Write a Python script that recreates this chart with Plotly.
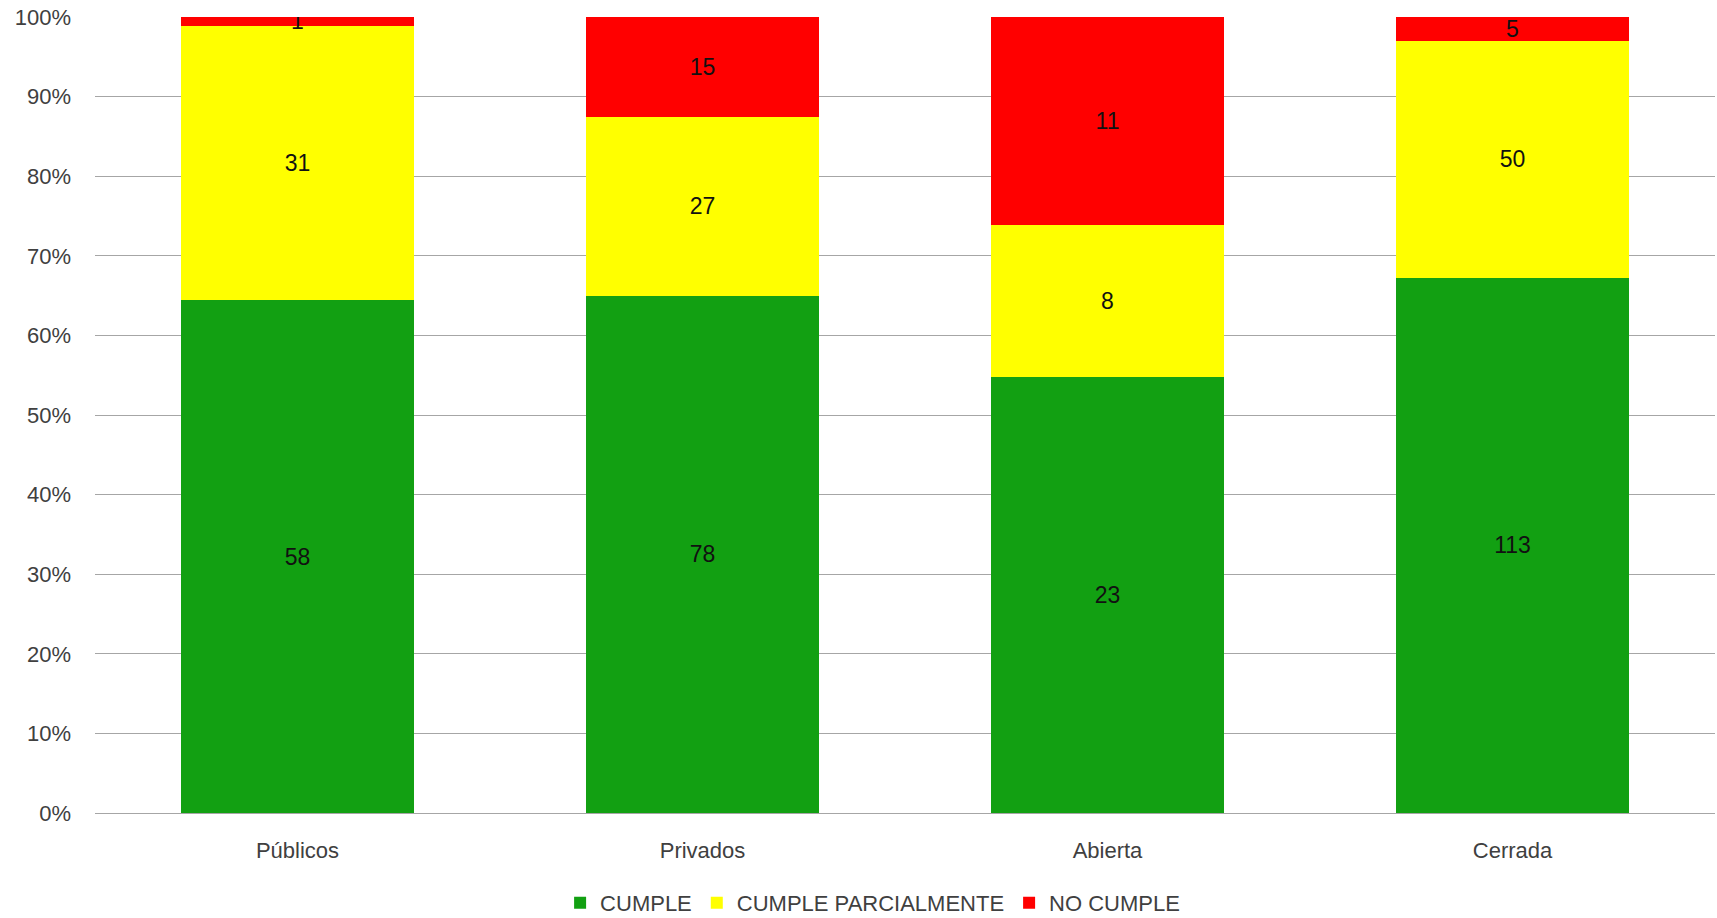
import plotly.graph_objects as go

categories = ["Públicos", "Privados", "Abierta", "Cerrada"]
cumple = [58, 78, 23, 113]
parcial = [31, 27, 8, 50]
no_cumple = [1, 15, 11, 5]
series_names = ["CUMPLE", "CUMPLE PARCIALMENTE", "NO CUMPLE"]
colors = ["#12A012", "#FFFF00", "#FF0000"]
tick_vals = [0, 10, 20, 30, 40, 50, 60, 70, 80, 90, 100]
tick_text = [f"{v}%" for v in tick_vals]

FONT = "Liberation Sans, Arial, sans-serif"

fig = go.Figure()
for name, vals, col in zip(series_names, [cumple, parcial, no_cumple], colors):
    fig.add_trace(go.Bar(
        name=name, x=categories, y=vals, marker_color=col,
        marker_line_width=0,
        text=[str(v) for v in vals], textposition="inside", textangle=0,
        insidetextanchor="middle", constraintext="none",
        textfont=dict(family=FONT, size=23, color="#111111"),
    ))

fig.update_layout(
    barmode="stack", barnorm="percent", bargap=0.427,
    width=1717, height=918,
    margin=dict(l=95, r=2, t=17, b=105, autoexpand=False),
    paper_bgcolor="white", plot_bgcolor="white",
    font=dict(family=FONT, size=22, color="#404040"),
    showlegend=True,
    legend=dict(orientation="h", x=0.48, xanchor="center", y=-0.113, yanchor="middle",
                font=dict(family=FONT, size=22, color="#404040"), traceorder="normal",
                itemwidth=30),
    uniformtext=dict(mode=False),
)
fig.update_yaxes(range=[0, 100], tickvals=tick_vals, ticktext=tick_text,
                 showgrid=True, gridcolor="#A6A6A6", gridwidth=1.3,
                 zeroline=True, zerolinecolor="#A6A6A6", zerolinewidth=1.3,
                 showline=False, ticks="", ticklabelstandoff=23, automargin=False)
fig.update_xaxes(showgrid=False, showline=False, ticks="", ticklabelstandoff=22, automargin=False)

fig.write_html("out.html")
